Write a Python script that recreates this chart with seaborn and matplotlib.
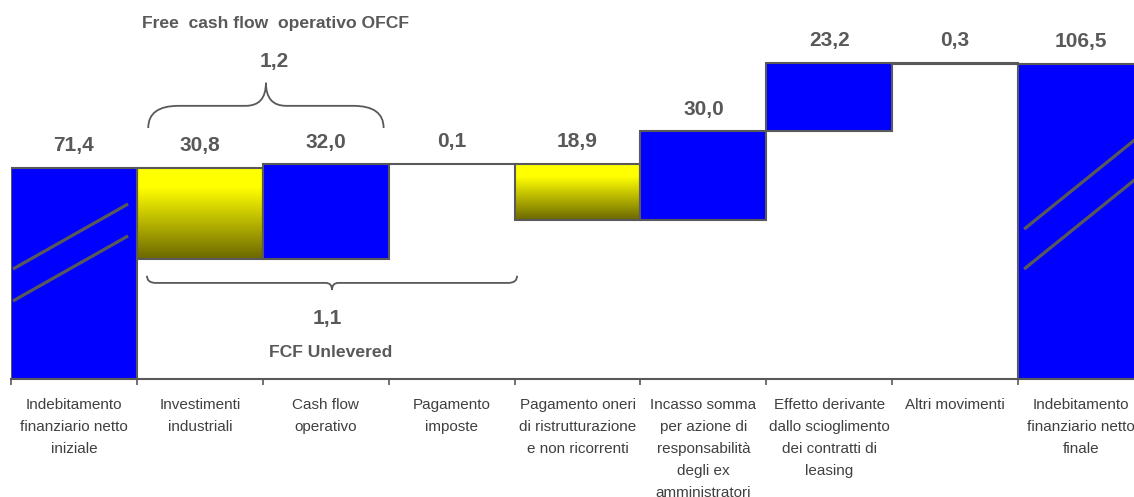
import numpy as np
import seaborn as sns
import matplotlib.pyplot as plt
from matplotlib.path import Path
from matplotlib.patches import PathPatch
from matplotlib.colors import LinearSegmentedColormap

# Bridge data (values in the chart's units)
categories = [
    "Indebitamento\nfinanziario netto\niniziale",
    "Investimenti\nindustriali",
    "Cash flow\noperativo",
    "Pagamento\nimposte",
    "Pagamento oneri\ndi ristrutturazione\ne non ricorrenti",
    "Incasso somma\nper azione di\nresponsabilità\ndegli ex\namministratori",
    "Effetto derivante\ndallo scioglimento\ndei contratti di\nleasing",
    "Altri movimenti",
    "Indebitamento\nfinanziario netto\nfinale",
]
values = [71.4, 30.8, 32.0, 0.1, 18.9, 30.0, 23.2, 0.3, 106.5]
kinds = ["total", "down", "up", "up", "down", "up", "up", "down", "total"]
ofcf_value = 1.2
fcf_unlevered_value = 1.1

GREY = "#595959"
BLUE = "#0000FF"

# waterfall bottoms / heights
bottoms, heights = [], []
level = 0.0
for v, k in zip(values, kinds):
    if k == "total":
        bottoms.append(0.0)
        level = v
    elif k == "up":
        bottoms.append(level)
        level += v
    else:
        level -= v
        bottoms.append(level)
    heights.append(v)
tops = [b + h for b, h in zip(bottoms, heights)]

sns.set_theme(style="white")
plt.rcParams["font.family"] = ["Liberation Sans", "DejaVu Sans"]

fig = plt.figure(figsize=(11.34, 4.97), dpi=100)
ax = fig.add_axes([11 / 1134, 118 / 497, 1133 / 1134, 379 / 497])

sns.barplot(x=list(range(len(values))), y=heights, bottom=bottoms, width=1.0,
            color=BLUE, saturation=1, edgecolor=GREY, linewidth=1.5, ax=ax,
            native_scale=True)

# yellow gradient for the decreases
cmap = LinearSegmentedColormap.from_list(
    "olive", [(0.0, "#6B6700"), (0.78, "#FFFF00"), (1.0, "#FFFF00")])
grad = np.linspace(1, 0, 256).reshape(-1, 1)
for patch, k in zip(ax.patches, kinds):
    if k == "down":
        bb = patch.get_bbox()
        patch.set_facecolor("none")
        im = ax.imshow(grad, extent=[bb.x0, bb.x1, bb.y0, bb.y1], aspect="auto",
                       cmap=cmap, vmin=0, vmax=1, zorder=patch.get_zorder() - 0.1)
        im.set_clip_path(patch)

# break marks on the two totals
for patch, k in zip(ax.patches, kinds):
    if k != "total":
        continue
    bb = patch.get_bbox()
    if bb.x0 < 0:
        xs = [bb.x0 + 0.016, bb.x0 + 0.93]
        ys = [(37.2, 59.2), (26.4, 48.4)]
    else:
        xs = [bb.x0 + 0.048, bb.x0 + 0.95]
        ys = [(50.7, 81.7), (37.2, 68.2)]
    for y0, y1 in ys:
        ax.plot(xs, [y0, y1], color=GREY, lw=2.3, solid_capstyle="butt", zorder=5)

# value labels
for i, (v, t) in enumerate(zip(values, tops)):
    ax.annotate(f"{v:.1f}".replace(".", ","), (i, t), xytext=(0, 16),
                textcoords="offset points", ha="center", va="center",
                fontsize=15, fontweight="bold", color=GREY)


def brace(ax, x0, x1, y_end, y_flat, y_tip, rx, tx):
    xm = (x0 + x1) / 2
    verts = [(x0, y_end), (x0, y_flat), (x0 + rx, y_flat), (xm - tx, y_flat),
             (xm, y_flat), (xm, y_tip), (xm, y_flat), (xm + tx, y_flat),
             (x1 - rx, y_flat), (x1, y_flat), (x1, y_end)]
    codes = [Path.MOVETO, Path.CURVE3, Path.CURVE3, Path.LINETO,
             Path.CURVE3, Path.CURVE3, Path.CURVE3, Path.CURVE3,
             Path.LINETO, Path.CURVE3, Path.CURVE3]
    ax.add_patch(PathPatch(Path(verts, codes), fill=False, edgecolor=GREY,
                           lw=1.3, zorder=6))


# Free cash flow operativo: spans categories 1-2
brace(ax, 0.59, 2.46, 84.9, 92.4, 100.2, 0.24, 0.16)
ax.text(1.59, 107.3, f"{ofcf_value:.1f}".replace(".", ","), ha="center",
        va="center", fontsize=15, fontweight="bold", color=GREY)
ax.text(1.6, 120.1, "Free  cash flow  operativo OFCF", ha="center", va="center",
        fontsize=12.6, fontweight="bold", color=GREY)

# FCF unlevered: spans categories 1-3
brace(ax, 0.58, 3.52, 34.9, 32.5, 30.1, 0.07, 0.05)
ax.text(2.01, 20.6, f"{fcf_unlevered_value:.1f}".replace(".", ","), ha="center",
        va="center", fontsize=15, fontweight="bold", color=GREY)
ax.text(2.04, 8.8, "FCF Unlevered", ha="center", va="center",
        fontsize=12.6, fontweight="bold", color=GREY)

ax.set_xlim(-0.5, len(values) - 0.5)
ax.set_ylim(0, 128.2)
ax.set_yticks([])
ax.set_xticks(range(len(values)))
ax.set_xticklabels(categories, fontsize=11, color="#404040", linespacing=1.71)
ax.set_xticks(np.arange(-0.5, len(values) + 0.5, 1), minor=True)
ax.tick_params(axis="x", which="major", length=0, pad=14)
ax.tick_params(axis="x", which="minor", length=4, width=1.2, color=GREY,
               direction="out", bottom=True)
ax.set_xlabel("")
ax.set_ylabel("")
for s in ["left", "top", "right"]:
    ax.spines[s].set_visible(False)
ax.spines["bottom"].set_color(GREY)
ax.spines["bottom"].set_linewidth(1.5)
ax.patch.set_alpha(0)

fig.savefig("out.png", dpi=100)
